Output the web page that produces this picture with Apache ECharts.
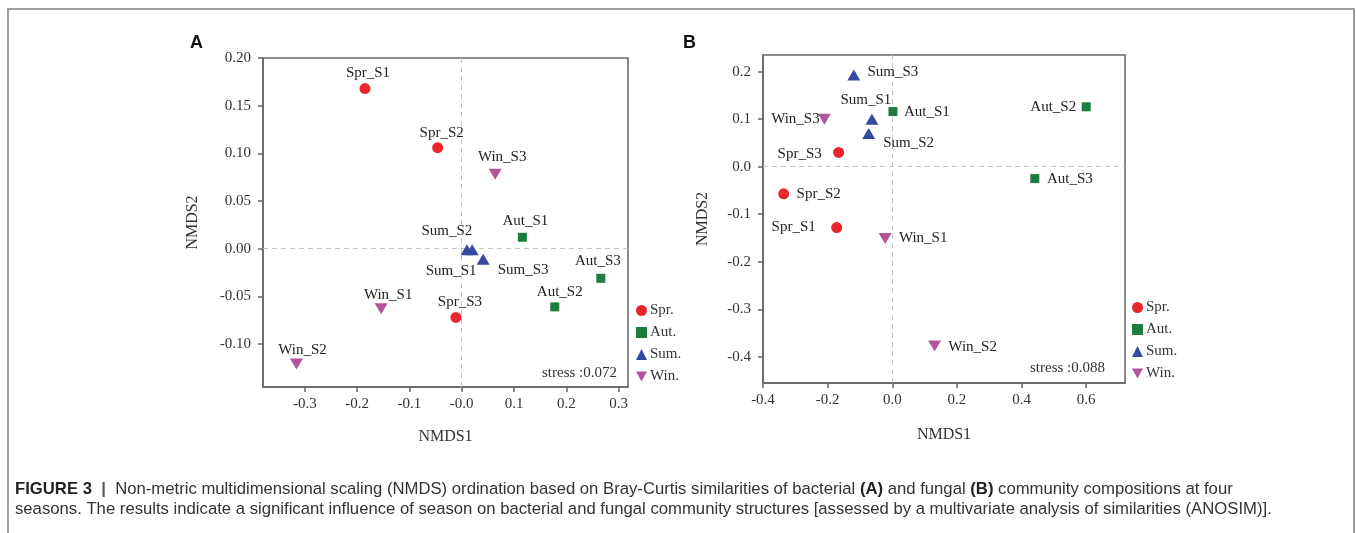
<!DOCTYPE html>
<html lang="en">

<head>
    <meta charset="UTF-8">
    <title>NMDS</title>
    <script src="https://cdn.jsdelivr.net/npm/echarts@6/dist/echarts.min.js"></script>
    <style>
        body {
            margin: 0;
            background: #fff;
        }

        .fig {
            width: 1356px;
            height: 533px;
        }
    </style>
</head>

<body>
    <div class="fig"></div>
</body>
<script>
    // samples and seasons
    const sites = ['S1', 'S2', 'S3']
    const seasons = ['Spr', 'Aut', 'Sum', 'Win']
    const legendNames = ['Spr.', 'Aut.', 'Sum.', 'Win.']

    // A: bacteria  [NMDS1, NMDS2] for S1, S2, S3
    const sprA = [[-0.185, 0.168], [-0.046, 0.106], [-0.011, -0.072]]
    const autA = [[0.116, 0.012], [0.178, -0.061], [0.266, -0.031]]
    const sumA = [[0.020, -0.001], [0.010, -0.001], [0.041, -0.011]]
    const winA = [[-0.154, -0.063], [-0.316, -0.121], [0.064, 0.078]]

    // B: fungi
    const sprB = [[-0.172, -0.128], [-0.336, -0.057], [-0.166, 0.030]]
    const autB = [[0.002, 0.116], [0.600, 0.126], [0.441, -0.025]]
    const sumB = [[-0.063, 0.100], [-0.073, 0.070], [-0.119, 0.193]]
    const winB = [[-0.022, -0.151], [0.131, -0.377], [-0.210, 0.100]]

    // tick values / labels
    const xTicksA = [-0.3, -0.2, -0.1, 0, 0.1, 0.2, 0.3]
    const xLabelsA = ['-0.3', '-0.2', '-0.1', '-0.0', '0.1', '0.2', '0.3']
    const yTicksA = [-0.1, -0.05, 0, 0.05, 0.1, 0.15, 0.2]
    const yLabelsA = ['-0.10', '-0.05', '0.00', '0.05', '0.10', '0.15', '0.20']
    const xTicksB = [-0.4, -0.2, 0, 0.2, 0.4, 0.6]
    const xLabelsB = ['-0.4', '-0.2', '0.0', '0.2', '0.4', '0.6']
    const yTicksB = [-0.4, -0.3, -0.2, -0.1, 0, 0.1, 0.2]
    const yLabelsB = ['-0.4', '-0.3', '-0.2', '-0.1', '0.0', '0.1', '0.2']

    const stressA = 'stress :0.072'
    const stressB = 'stress :0.088'

    const caption1 = 'Non-metric multidimensional scaling (NMDS) ordination based on Bray-Curtis similarities of bacterial {b|(A)} and fungal {b|(B)} community compositions at four'
    const caption2 = 'seasons. The results indicate a significant influence of season on bacterial and fungal community structures [assessed by a multivariate analysis of similarities (ANOSIM)].'

    // label placement (label centre relative to the point, px)
    const offA = {
        Spr_S1: [3, -15], Spr_S2: [4, -15], Spr_S3: [4, -15],
        Aut_S1: [3, -16], Aut_S2: [5, -15], Aut_S3: [-3, -17],
        Sum_S1: [-21, 21], Sum_S2: [-20, -19], Sum_S3: [40, 11],
        Win_S1: [7, -14], Win_S2: [6, -14], Win_S3: [7, -17]
    }
    const offB = {
        Spr_S1: [-43, 0], Spr_S2: [35, 0], Spr_S3: [-39, 2],
        Aut_S1: [34, 0], Aut_S2: [-33, 0], Aut_S3: [35, 0],
        Sum_S1: [-6, -19], Sum_S2: [40, 10], Sum_S3: [39, -3],
        Win_S1: [38, 0], Win_S2: [38, 1], Win_S3: [-29, 0]
    }

    const serif = '"Liberation Serif", "Times New Roman", serif'
    const sans = '"Liberation Sans", Arial, sans-serif'
    const colors = ['#e8262b', '#1c7d3f', '#3549a0', '#b3559e']
    const symbols = ['circle', 'rect', 'triangle', 'path://M0,0 L10,0 L5,9 Z']
    const sizes = [11, 9, [13, 11], [13, 11]]
    const axisCol = '#666'

    function lab(ticks, labels) {
        return function (v) {
            let i = ticks.findIndex(t => Math.abs(t - v) < 1e-9)
            return i < 0 ? '' : labels[i]
        }
    }

    function xAx(grid, min, max, ticks, labels, gap) {
        return {
            gridIndex: grid, type: 'value', min: min, max: max,
            name: 'NMDS1', nameLocation: 'middle', nameGap: gap,
            nameTextStyle: { fontFamily: serif, fontSize: 16, color: '#333' },
            axisLine: { onZero: false, lineStyle: { color: axisCol, width: 1.5 } },
            axisTick: { customValues: ticks, length: 5, lineStyle: { color: axisCol, width: 1.5 } },
            axisLabel: { customValues: ticks, formatter: lab(ticks, labels), margin: 10, fontFamily: serif, fontSize: 15, color: '#333' },
            splitLine: { show: false }
        }
    }

    function yAx(grid, min, max, ticks, labels, gap) {
        return {
            gridIndex: grid, type: 'value', min: min, max: max,
            name: 'NMDS2', nameLocation: 'middle', nameGap: gap,
            nameTextStyle: { fontFamily: serif, fontSize: 16, color: '#333' },
            axisLine: { onZero: false, lineStyle: { color: axisCol, width: 1.5 } },
            axisTick: { customValues: ticks, length: 5, lineStyle: { color: axisCol, width: 1.5 } },
            axisLabel: { customValues: ticks, formatter: lab(ticks, labels), margin: 12, fontFamily: serif, fontSize: 15, color: '#333' },
            splitLine: { show: false }
        }
    }

    function panelSeries(idx, sets, offs) {
        let list = sets.map((pts, s) => ({
            type: 'scatter',
            name: legendNames[s],
            xAxisIndex: idx,
            yAxisIndex: idx,
            z: 3,
            symbol: symbols[s],
            symbolSize: sizes[s],
            itemStyle: { color: colors[s], opacity: 1 },
            label: {
                show: true, position: 'inside', formatter: '{b}',
                fontFamily: serif, fontSize: 15, color: '#222'
            },
            data: pts.map((p, k) => {
                let nm = seasons[s] + '_' + sites[k]
                return { name: nm, value: p, label: { offset: offs[nm] } }
            })
        }))
        // dashed zero lines, underneath the points
        list.push({
            type: 'scatter', xAxisIndex: idx, yAxisIndex: idx, z: 1, data: [],
            markLine: {
                z: 1, silent: true, symbol: 'none', label: { show: false },
                lineStyle: { type: [5, 4], color: '#c4c4c4', width: 1 },
                data: [{ xAxis: 0 }, { yAxis: 0 }]
            }
        })
        return list
    }

    function legend(left, top) {
        return {
            orient: 'vertical', left: left, top: top,
            itemWidth: 11, itemHeight: 11, itemGap: 7,
            textStyle: { fontFamily: serif, fontSize: 15, color: '#333', padding: [0, 0, 0, -2] },
            data: legendNames
        }
    }

    // caption size: fit both lines on average
    let ctx = document.createElement('canvas').getContext('2d')
    ctx.font = '16px ' + sans
    let w1 = ctx.measureText('FIGURE 3  |  ' + caption1.replace('{b|(A)}', '(A)').replace('{b|(B)}', '(B)')).width
    let w2 = ctx.measureText(caption2).width
    let capSize = 16 * (1148 + 1325) / (w1 + w2)

    let mCharts = echarts.init(document.querySelector('.fig'), null, { renderer: 'canvas' })
    let option = {
        animation: false,
        grid: [
            { left: 263, top: 58, width: 365, height: 329, show: true, borderColor: axisCol, borderWidth: 1.5 },
            { left: 763, top: 55, width: 362, height: 328, show: true, borderColor: axisCol, borderWidth: 1.5 }
        ],
        xAxis: [
            xAx(0, -0.38, 0.318, xTicksA, xLabelsA, 42),
            xAx(1, -0.4, 0.72, xTicksB, xLabelsB, 44)
        ],
        yAxis: [
            yAx(0, -0.145, 0.2, yTicksA, yLabelsA, 62),
            yAx(1, -0.455, 0.235, yTicksB, yLabelsB, 52)
        ],
        legend: [legend(631, 298), legend(1127, 295)],
        series: panelSeries(0, [sprA, autA, sumA, winA], offA)
            .concat(panelSeries(1, [sprB, autB, sumB, winB], offB)),
        graphic: [
            { type: 'rect', shape: { x: 8, y: 9, width: 1346, height: 600 }, style: { fill: 'none', stroke: '#808080', lineWidth: 1.5 }, silent: true },
            { type: 'text', x: 190, y: 34, style: { text: 'A', font: 'bold 18px ' + sans, fill: '#111' } },
            { type: 'text', x: 683, y: 34, style: { text: 'B', font: 'bold 18px ' + sans, fill: '#111' } },
            { type: 'text', x: 617, y: 373, style: { text: stressA, font: '15px ' + serif, fill: '#333', align: 'right', verticalAlign: 'middle' } },
            { type: 'text', x: 1105, y: 368, style: { text: stressB, font: '15px ' + serif, fill: '#333', align: 'right', verticalAlign: 'middle' } },
            {
                type: 'text', x: 15, y: 489,
                style: {
                    text: '{b|FIGURE 3}  {s||}  ' + caption1,
                    font: capSize + 'px ' + sans, fill: '#333', verticalAlign: 'middle',
                    rich: {
                        b: { fontWeight: 'bold', fontSize: capSize, fontFamily: sans, fill: '#222' },
                        s: { fontWeight: 'bold', fontSize: capSize, fontFamily: sans, fill: '#555' }
                    }
                }
            },
            { type: 'text', x: 15, y: 509, style: { text: caption2, font: capSize + 'px ' + sans, fill: '#333', verticalAlign: 'middle' } }
        ]
    }
    mCharts.setOption(option)
</script>

</html>
